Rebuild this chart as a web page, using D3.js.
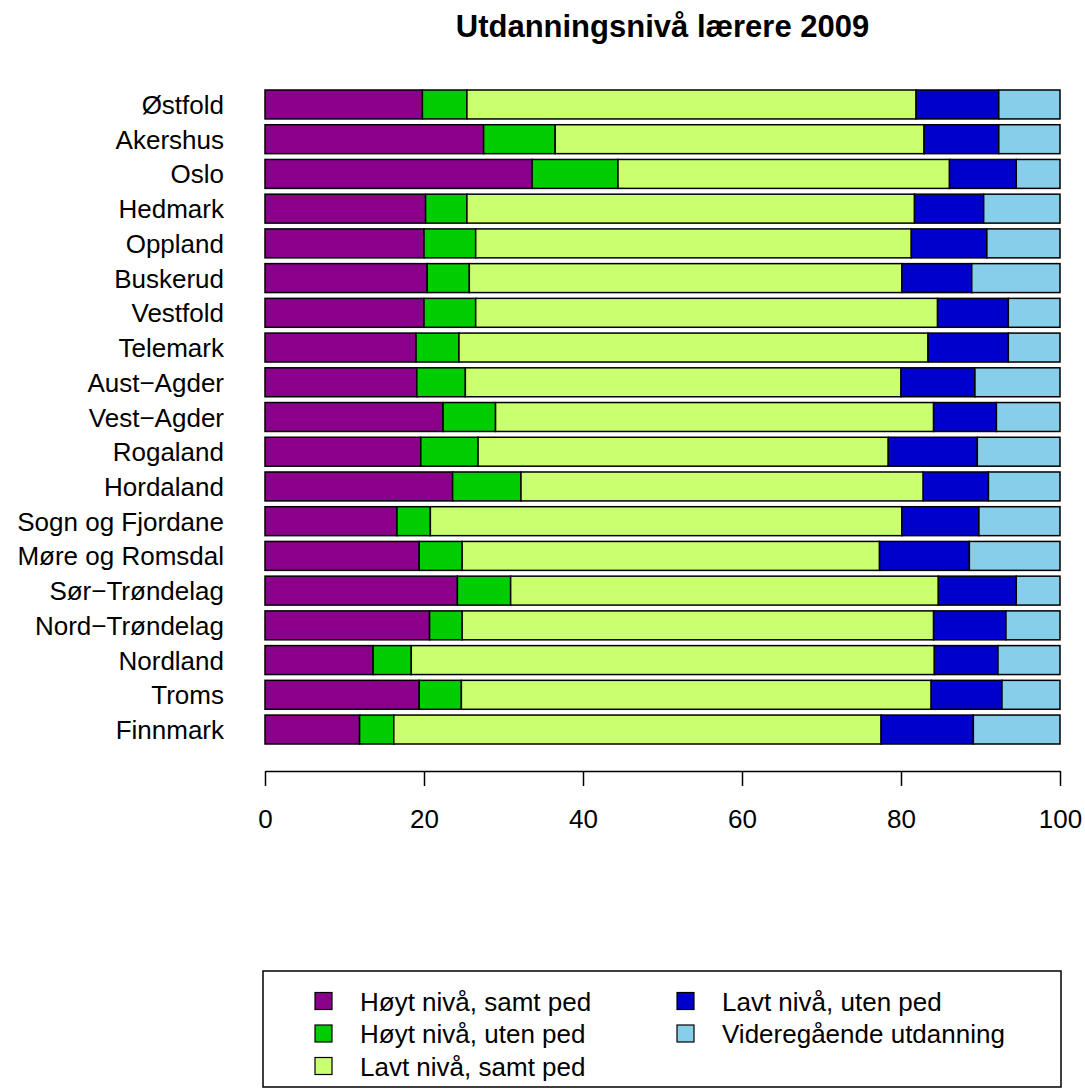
<!DOCTYPE html>
<html>
<head>
<meta charset="utf-8">
<script src="https://cdn.jsdelivr.net/npm/d3@7"></script>
<style>
  html, body { margin: 0; padding: 0; background: #fff; }
  svg { display: block; }
  text { font-family: "Liberation Sans", Arial, Helvetica, sans-serif; fill: #000; }
</style>
</head>
<body>
<script>
const title = "Utdanningsnivå lærere 2009";
const categories = ["Østfold","Akershus","Oslo","Hedmark","Oppland","Buskerud","Vestfold","Telemark","Aust−Agder","Vest−Agder","Rogaland","Hordaland","Sogn og Fjordane","Møre og Romsdal","Sør−Trøndelag","Nord−Trøndelag","Nordland","Troms","Finnmark"];
const seriesNames = ["Høyt nivå, samt ped","Høyt nivå, uten ped","Lavt nivå, samt ped","Lavt nivå, uten ped","Videregående utdanning"];
const hoytSamt = [19.8,27.5,33.6,20.2,20.0,20.4,20.0,19.0,19.1,22.4,19.6,23.6,16.6,19.4,24.2,20.7,13.6,19.4,11.9];
const hoytUten = [5.6,9.0,10.8,5.2,6.5,5.3,6.5,5.4,6.1,6.6,7.2,8.6,4.2,5.4,6.7,4.1,4.8,5.3,4.3];
const lavtSamt = [56.5,46.4,41.7,56.3,54.8,54.4,58.1,59.0,54.8,55.1,51.6,50.6,59.3,52.5,53.8,59.3,65.8,59.1,61.3];
const lavtUten = [10.4,9.4,8.4,8.7,9.5,8.8,8.9,10.1,9.3,7.9,11.2,8.2,9.7,11.3,9.8,9.1,8.0,8.9,11.6];
const vgs = [7.7,7.7,5.5,9.6,9.2,11.1,6.5,6.5,10.7,8.0,10.4,9.0,10.2,11.4,5.5,6.8,7.8,7.3,10.9];
const tickValues = [0,20,40,60,80,100];
const colors = ["#8B008B","#00CD00","#CAFF70","#0000CD","#87CEEB"];

const W = 1085, H = 1090;
const seriesArrays = [hoytSamt, hoytUten, lavtSamt, lavtUten, vgs];
const table = categories.map((c, i) => {
  const row = { cat: c };
  seriesNames.forEach((s, j) => row[s] = seriesArrays[j][i]);
  return row;
});
const stacked = d3.stack().keys(seriesNames)(table);

const svg = d3.select("body").append("svg").attr("width", W).attr("height", H);

const x = d3.scaleLinear().domain([0, 100]).range([265, 1060]);
const y = d3.scaleBand().domain(categories).range([90, 744]).paddingInner(1/6).paddingOuter(0);

// title
svg.append("text").attr("x", 662.5).attr("y", 37).attr("text-anchor", "middle")
  .style("font-size", "31px").style("font-weight", "bold").text(title);

// bars
const g = svg.append("g");
stacked.forEach((layer, j) => {
  g.append("g").selectAll("rect").data(layer).join("rect")
    .attr("x", d => x(d[0]))
    .attr("y", d => y(d.data.cat))
    .attr("width", d => x(d[1]) - x(d[0]))
    .attr("height", y.bandwidth())
    .attr("fill", colors[j])
    .attr("stroke", "#000")
    .attr("stroke-width", 1.5);
});

// category labels
svg.append("g").selectAll("text").data(categories).join("text")
  .attr("x", 224)
  .attr("y", d => y(d) + y.bandwidth() / 2 + 9.5)
  .attr("text-anchor", "end")
  .style("font-size", "26px")
  .text(d => d);

// x axis
const axis = d3.axisBottom(x).tickValues(tickValues).tickSize(15).tickSizeOuter(0).tickPadding(24).tickFormat(d3.format("d"));
const ax = svg.append("g").attr("transform", "translate(0,771)").call(axis);
ax.select(".domain").attr("stroke", "#000").attr("stroke-width", 1.5);
ax.selectAll(".tick line").attr("stroke", "#000").attr("stroke-width", 1.5);
ax.selectAll(".tick text").style("font-size", "26px").style("font-family", "'Liberation Sans', Arial, sans-serif").attr("fill", "#000");

// legend
svg.append("rect").attr("x", 263).attr("y", 971).attr("width", 1061 - 263).attr("height", 1087 - 971)
  .attr("fill", "none").attr("stroke", "#000").attr("stroke-width", 1.5);
const legendCols = [315, 677];
const legendRows = [1001, 1033.5, 1066];
const legendPos = seriesNames.map((s, i) => ({ name: s, color: colors[i], col: i < 3 ? 0 : 1, row: i < 3 ? i : i - 3 }));
const lg = svg.append("g").selectAll("g").data(legendPos).join("g");
lg.append("rect")
  .attr("x", d => legendCols[d.col])
  .attr("y", d => legendRows[d.row] - 8.5)
  .attr("width", 17).attr("height", 17)
  .attr("fill", d => d.color).attr("stroke", "#000").attr("stroke-width", 1.2);
lg.append("text")
  .attr("x", d => legendCols[d.col] + 45)
  .attr("y", d => legendRows[d.row] + 9.5)
  .style("font-size", "26px")
  .text(d => d.name);
</script>
</body>
</html>
